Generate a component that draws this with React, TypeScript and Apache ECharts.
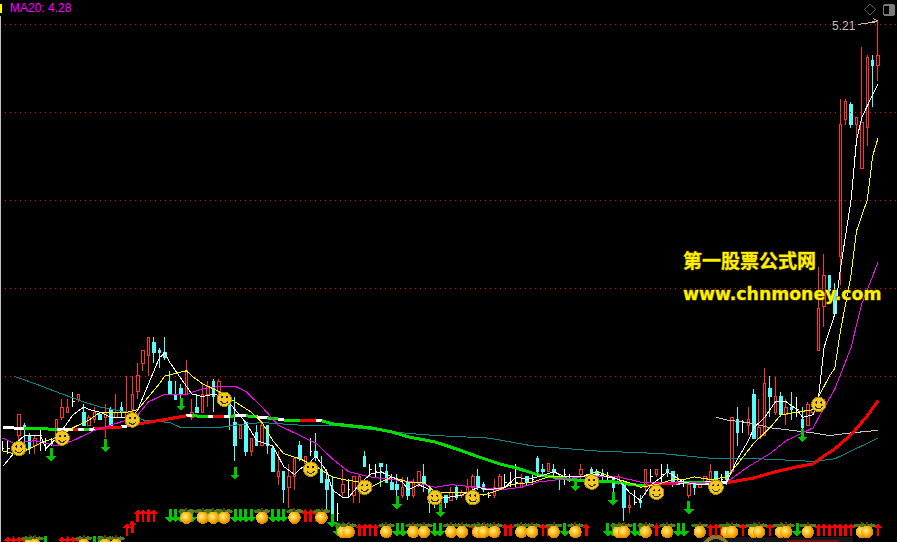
import React, { useEffect, useRef } from "react";
import * as echarts from "echarts";

// [open, close, low, high] for each trading day
const candles: number[][] = [
  [3.56,3.56,3.55,3.59],[3.56,3.56,3.54,3.59],[3.56,3.56,3.55,3.57],[3.61,3.69,3.57,3.69],[3.65,3.64,3.57,3.66],
  [3.61,3.56,3.54,3.62],[3.57,3.60,3.54,3.61],[3.61,3.61,3.55,3.63],[3.58,3.58,3.55,3.60],[3.58,3.58,3.57,3.60],
  [3.60,3.67,3.59,3.67],[3.68,3.72,3.67,3.75],[3.70,3.72,3.70,3.75],[3.74,3.74,3.72,3.78],[3.75,3.77,3.74,3.77],
  [3.70,3.65,3.65,3.73],[3.65,3.68,3.65,3.69],[3.67,3.70,3.66,3.72],[3.69,3.67,3.67,3.70],[3.68,3.70,3.60,3.73],
  [3.71,3.65,3.64,3.72],[3.68,3.70,3.68,3.77],[3.72,3.70,3.68,3.74],[3.68,3.70,3.65,3.84],[3.71,3.77,3.64,3.84],
  [3.78,3.84,3.75,3.89],[3.89,3.94,3.86,3.94],[3.92,3.99,3.84,3.99],[3.97,3.93,3.89,3.99],[3.94,3.93,3.87,3.95],
  [3.93,3.91,3.90,3.99],[3.82,3.77,3.77,3.86],[3.77,3.75,3.75,3.82],[3.79,3.77,3.75,3.81],[3.77,3.86,3.77,3.90],
  [3.68,3.70,3.67,3.75],[3.72,3.70,3.70,3.77],[3.70,3.77,3.70,3.81],[3.77,3.80,3.72,3.82],[3.82,3.76,3.70,3.83],
  [3.78,3.82,3.76,3.83],[3.77,3.76,3.75,3.78],[3.74,3.69,3.63,3.76],[3.66,3.57,3.51,3.76],[3.60,3.65,3.60,3.65],
  [3.66,3.55,3.53,3.66],[3.55,3.60,3.53,3.60],[3.62,3.57,3.57,3.65],[3.57,3.65,3.57,3.66],[3.65,3.57,3.54,3.65],
  [3.56,3.47,3.47,3.57],[3.45,3.47,3.42,3.55],[3.47,3.40,3.35,3.47],[3.41,3.45,3.33,3.50],[3.45,3.52,3.40,3.52],
  [3.57,3.52,3.51,3.59],[3.50,3.53,3.49,3.53],[3.55,3.55,3.53,3.60],[3.55,3.53,3.51,3.62],[3.48,3.43,3.43,3.53],
  [3.44,3.40,3.31,3.48],[3.40,3.31,3.30,3.45],[3.31,3.31,3.28,3.35],[3.39,3.42,3.37,3.48],[3.40,3.40,3.37,3.44],
  [3.38,3.45,3.35,3.45],[3.43,3.45,3.35,3.46],[3.53,3.49,3.49,3.55],[3.48,3.48,3.45,3.50],[3.47,3.47,3.45,3.50],
  [3.50,3.49,3.41,3.50],[3.47,3.43,3.43,3.50],[3.43,3.40,3.40,3.46],[3.42,3.40,3.37,3.46],[3.38,3.41,3.37,3.45],
  [3.43,3.38,3.36,3.45],[3.38,3.43,3.37,3.44],[3.43,3.47,3.41,3.47],[3.45,3.42,3.39,3.50],[3.40,3.35,3.31,3.41],
  [3.36,3.35,3.33,3.38],[3.34,3.37,3.34,3.38],[3.38,3.35,3.33,3.38],[3.36,3.39,3.36,3.41],[3.41,3.37,3.36,3.42],
  [3.38,3.39,3.37,3.40],[3.37,3.41,3.36,3.44],[3.41,3.45,3.39,3.46],[3.45,3.41,3.40,3.48],[3.42,3.40,3.39,3.43],
  [3.38,3.38,3.37,3.39],[3.38,3.41,3.37,3.44],[3.41,3.45,3.41,3.46],[3.43,3.43,3.41,3.46],[3.43,3.43,3.41,3.47],
  [3.43,3.43,3.41,3.50],[3.41,3.43,3.41,3.46],[3.45,3.43,3.42,3.45],[3.44,3.44,3.42,3.47],[3.52,3.47,3.45,3.53],
  [3.48,3.47,3.45,3.50],[3.47,3.50,3.47,3.50],[3.48,3.47,3.45,3.50],[3.45,3.44,3.40,3.46],[3.46,3.46,3.42,3.48],
  [3.45,3.45,3.43,3.46],[3.44,3.44,3.40,3.45],[3.46,3.48,3.44,3.50],[3.44,3.44,3.43,3.46],[3.48,3.46,3.45,3.49],
  [3.47,3.45,3.44,3.48],[3.46,3.45,3.43,3.48],[3.45,3.45,3.43,3.47],[3.45,3.41,3.39,3.45],[3.43,3.45,3.42,3.46],
  [3.43,3.33,3.28,3.43],[3.33,3.34,3.31,3.38],[3.35,3.35,3.34,3.40],[3.36,3.35,3.33,3.38],[3.41,3.48,3.38,3.48],
  [3.45,3.45,3.43,3.48],[3.46,3.48,3.45,3.48],[3.46,3.46,3.42,3.50],[3.48,3.47,3.45,3.50],[3.47,3.43,3.41,3.47],
  [3.43,3.42,3.42,3.46],[3.43,3.43,3.41,3.44],[3.38,3.42,3.37,3.43],[3.42,3.41,3.38,3.43],[3.41,3.43,3.41,3.43],
  [3.42,3.45,3.42,3.45],[3.43,3.47,3.41,3.50],[3.47,3.44,3.42,3.47],[3.44,3.44,3.43,3.46],[3.47,3.44,3.42,3.47],
  [3.47,3.68,3.46,3.68],[3.67,3.62,3.57,3.72],[3.66,3.66,3.62,3.67],[3.65,3.67,3.61,3.72],[3.77,3.60,3.60,3.79],
  [3.60,3.64,3.60,3.75],[3.61,3.81,3.61,3.87],[3.79,3.76,3.68,3.84],[3.70,3.76,3.69,3.84],[3.76,3.69,3.68,3.78],
  [3.69,3.72,3.65,3.75],[3.72,3.71,3.67,3.78],[3.71,3.71,3.68,3.76],[3.67,3.64,3.62,3.72],[3.65,3.73,3.65,3.74],
  [3.70,3.71,3.69,3.72],[3.94,4.10,3.94,4.26],[4.11,4.23,4.03,4.31],[4.23,4.17,4.16,4.23],[4.17,4.08,4.08,4.20],
  [4.30,4.81,4.19,4.91],[4.83,4.90,4.81,4.91],[4.89,4.81,4.80,4.90],[4.81,4.84,4.75,4.84],[4.64,4.82,4.64,5.11],
  [4.80,5.07,4.73,5.08],[5.06,5.04,4.88,5.08],[5.04,5.08,4.98,5.21],
];

// Moving averages: [bar index, price]
const ma5: number[][] = [
  [0,3.49],[2,3.54],[3,3.59],[4,3.61],[7,3.61],[8,3.56],[10,3.60],[11,3.63],[13,3.69],[15,3.72],[16,3.71],[18,3.70],[20,3.68],[24,3.68],[25,3.71],[27,3.81],[29,3.91],[30,3.93],[31,3.89],[33,3.83],[35,3.77],[37,3.76],[39,3.77],[41,3.76],[43,3.71],[45,3.66],[47,3.59],[50,3.57],[52,3.49],[54,3.46],[55,3.48],
  [57,3.51],[58,3.53],[60,3.47],[61,3.40],[63,3.37],[64,3.37],[66,3.42],[68,3.46],[70,3.47],[71,3.46],[74,3.43],[75,3.40],[77,3.42],[79,3.40],[81,3.37],[82,3.37],[85,3.38],[88,3.41],[90,3.40],[93,3.41],[95,3.45],[97,3.44],[99,3.45],[102,3.47],[104,3.45],[107,3.45],[109,3.46],[110,3.46],
  [114,3.44],[116,3.39],[118,3.36],[120,3.42],[122,3.45],[123,3.47],[126,3.43],[129,3.42],[131,3.42],[134,3.43],[136,3.52],[138,3.59],[139,3.64],[141,3.68],[143,3.74],[145,3.74],[147,3.71],[148,3.68],[150,3.69],[151,3.76],[152,3.95],[154,4.08],[155,4.25],[157,4.52],[158,4.75],[159,4.84],[162,4.97],
];
const ma10: number[][] = [
  [0,3.55],[2,3.54],[4,3.55],[6,3.57],[8,3.59],[10,3.60],[13,3.64],[16,3.67],[18,3.70],[21,3.70],[23,3.70],[25,3.71],[27,3.76],[29,3.81],[30,3.84],[32,3.85],[34,3.86],[35,3.84],[37,3.81],[40,3.78],[43,3.74],[46,3.70],[48,3.66],[50,3.59],[52,3.54],[55,3.52],
  [58,3.49],[61,3.45],[63,3.44],[66,3.43],[68,3.41],[70,3.43],[72,3.45],[75,3.43],[78,3.43],[80,3.39],[82,3.39],[85,3.39],[89,3.38],[92,3.40],[94,3.42],[98,3.43],[101,3.45],[104,3.45],[107,3.45],[110,3.47],
  [114,3.44],[117,3.42],[118,3.41],[121,3.42],[124,3.44],[126,3.44],[128,3.45],[131,3.44],[134,3.45],[136,3.50],[139,3.58],[142,3.64],[144,3.69],[147,3.70],[150,3.71],[151,3.76],[153,3.84],[154,3.87],[155,4.01],[157,4.23],[158,4.40],[160,4.52],[161,4.69],[162,4.76],
];
const ma20: number[][] = [
  [0,3.60],[2,3.58],[6,3.59],[10,3.57],[13,3.59],[17,3.63],[20,3.65],[23,3.67],[25,3.69],[27,3.74],[30,3.77],[34,3.77],[37,3.79],[40,3.80],[43,3.80],[45,3.78],[48,3.72],[51,3.65],[55,3.61],[58,3.58],[61,3.52],[64,3.47],[68,3.45],[72,3.44],[76,3.43],[80,3.41],[83,3.42],[88,3.41],[92,3.40],[96,3.41],[99,3.43],[103,3.44],[107,3.45],[110,3.45],[114,3.45],[118,3.43],[123,3.43],[126,3.43],[130,3.43],[134,3.43],[138,3.49],[142,3.54],[145,3.59],[150,3.64],[151,3.68],[154,3.79],[157,3.95],[159,4.12],[162,4.28],
];
const ma120: number[][] = [
  [2,3.84],[6,3.81],[11,3.77],[15,3.74],[18,3.72],[23,3.70],[26,3.67],[31,3.66],[33,3.64],[37,3.64],[40,3.64],[43,3.65],[48,3.66],[55,3.65],[61,3.65],[74,3.62],[80,3.61],[90,3.60],[98,3.57],[110,3.55],[122,3.54],[132,3.52],[140,3.52],[150,3.51],[154,3.52],[158,3.56],[162,3.60],
];
const avgLine: number[][] = [
  [132,3.68],[134,3.67],[138,3.66],[142,3.64],[146,3.63],[150,3.62],[153,3.61],[157,3.62],[162,3.63],
];
// Thick trend line: [bar index, price] and the colour of the stretch ending at that point (w, g, r)
const ma60: number[][] = [
  [0,3.640],[4,3.638],[10,3.634],[13,3.632],[14,3.632],[15,3.632],[16,3.632],[17,3.636],[22,3.643],[23,3.647],[34,3.686],[35,3.686],[38,3.684],[39,3.682],[41,3.682],[42,3.684],[43,3.686],[45,3.686],[47,3.682],[49,3.678],[51,3.674],[52,3.670],[55,3.667],[58,3.670],[59,3.667],
  [61,3.655],[68,3.640],[72,3.624],[75,3.605],[80,3.585],[84,3.558],[88,3.528],[92,3.500],[95,3.485],[99,3.458],[104,3.443],[107,3.435],[113,3.431],[117,3.419],[119,3.415],[122,3.423],[125,3.427],[126,3.427],[130,3.427],[134,3.427],
  [136,3.435],[139,3.446],[143,3.470],[147,3.489],[150,3.500],[152,3.531],[154,3.558],[157,3.613],[160,3.686],[162,3.744],
];
const ma60Trend: string[] = [
  "w","g","w","r","w","g","w","r","w","r","w","g","w","r","w","g","w","g","w","g","w","g","r","w",
  "g","g","g","g","g","g","g","g","g","g","g","g","g","g","g","r","r","w","g","w",
  "r","r","r","r","r","r","r","r","r","r",
];

const gridLevels: number[] = [5.20, 4.86, 4.52, 4.18, 3.84];

// Signal rows: [bar index, price level]
const smileys: number[][] = [[3,3.56],[11,3.60],[24,3.67],[41,3.75],[57,3.48],[67,3.41],[80,3.37],[87,3.37],[109,3.43],[121,3.39],[132,3.41],[151,3.73]];
const sellArrows: number[][] = [
  [9,3.535],[19,3.57],[33,3.73],[43,3.465],[73,3.35],[81,3.32],[106,3.42],[113,3.365],[127,3.33],[148,3.61],[61,3.28],
  [31,3.30],[32,3.30],[33,3.30],[35,3.30],[38,3.30],[40,3.30],[43,3.30],[44,3.30],[45,3.30],[46,3.30],[50,3.30],[51,3.30],[52,3.30],
  [8,3.195],[17,3.195],[18,3.195],
  [62,3.245],[73,3.245],[74,3.245],[80,3.245],[81,3.245],[104,3.245],[112,3.245],[113,3.245],[117,3.245],[118,3.245],[125,3.245],[126,3.245],[147,3.245],
];
const buyArrows: number[][] = [
  [1,3.195],[2,3.195],[3,3.195],[4,3.195],[11,3.195],[12,3.195],[13,3.195],[14,3.195],
  [23,3.245],[24,3.257],[25,3.30],[26,3.30],[27,3.30],[28,3.30],[56,3.30],[57,3.30],[58,3.30],
  [66,3.245],[67,3.245],[68,3.245],[69,3.245],[87,3.245],[93,3.245],[94,3.245],[100,3.245],[101,3.245],[108,3.245],[121,3.245],[131,3.245],[132,3.245],[133,3.245],[137,3.245],[142,3.245],
  [151,3.245],[152,3.245],[153,3.245],[154,3.245],[155,3.245],[156,3.245],[157,3.245],[162,3.245],
];
const oranges: number[][] = [
  [5,3.195],[6,3.195],[15,3.195],[19,3.195],[21,3.195],
  [34,3.30],[37,3.30],[39,3.30],[41,3.30],[48,3.30],[54,3.30],[59,3.30],
  [63,3.245],[64,3.245],[71,3.245],[76,3.245],[78,3.245],[83,3.245],[85,3.245],[88,3.245],[89,3.245],[91,3.245],[96,3.245],[98,3.245],[102,3.245],[106,3.245],
  [114,3.245],[115,3.245],[119,3.245],[123,3.245],[129,3.245],[134,3.245],[135,3.245],[139,3.245],[140,3.245],[144,3.245],[145,3.245],[149,3.245],[159,3.245],[160,3.245],
];
const titleText = "MA20: 4.28";
const maxLabel = "5.21";
const watermarkCn = "第一股票公式网";
const watermarkUrl = "www.chnmoney.com";
const slotCount = 166;

const RED = "#ff3232";
const CYAN = "#54fcfc";

function renderArrow(color: string, up: boolean, headHalf: number, shaftHalf: number) {
  return (_p: any, api: any) => {
    const c = api.coord([api.value(0), api.value(1)]);
    const d = up ? 1 : -1;
    const pts = [[0,-6.5*d],[headHalf,-1.5*d],[shaftHalf,-1.5*d],[shaftHalf,6.5*d],[-shaftHalf,6.5*d],[-shaftHalf,-1.5*d],[-headHalf,-1.5*d]];
    return { type: "polygon", x: c[0], y: c[1], shape: { points: pts }, style: { fill: color } };
  };
}

function renderOrange(_p: any, api: any) {
  const c = api.coord([api.value(0), api.value(1)]);
  return {
    type: "group", x: c[0], y: c[1] + 2,
    children: [
      { type: "ellipse", shape: { cx: -4, cy: -6.5, rx: 4.5, ry: 2 }, style: { fill: "#4c7a16" } },
      { type: "ellipse", shape: { cx: 4, cy: -6.5, rx: 4.5, ry: 2 }, style: { fill: "#5e7f1c" } },
      { type: "rect", shape: { x: -1, y: -9.5, width: 2, height: 4 }, style: { fill: "#5a3a10" } },
      { type: "circle", shape: { cx: 0, cy: 0, r: 6.2 }, style: {
        fill: new echarts.graphic.RadialGradient(0.4, 0.4, 0.65, [
          { offset: 0, color: "#fff09a" }, { offset: 0.45, color: "#ffc01c" }, { offset: 1, color: "#d97800" },
        ]) } },
    ],
  };
}

function renderSmiley(_p: any, api: any) {
  const c = api.coord([api.value(0), api.value(1)]);
  return {
    type: "group", x: c[0], y: c[1],
    children: [
      { type: "circle", shape: { cx: 0, cy: 0, r: 7.2 }, style: { fill: "#f5c81e", stroke: "#a98a12", lineWidth: 1 } },
      { type: "circle", shape: { cx: -2.5, cy: -2, r: 1 }, style: { fill: "#222" } },
      { type: "circle", shape: { cx: 2.5, cy: -2, r: 1 }, style: { fill: "#222" } },
      { type: "arc", shape: { cx: 0, cy: 0.2, r: 4, startAngle: 0.35, endAngle: 2.8 }, style: { stroke: "#333", fill: "none", lineWidth: 1 } },
    ],
  };
}

function trendSeries(kind: string, color: string) {
  const data: any[] = [];
  for (let s = 0; s < ma60Trend.length; s++) {
    if (ma60Trend[s] !== kind) continue;
    data.push(ma60[s], ma60[s + 1], [ma60[s + 1][0], null]);
  }
  return {
    type: "line", data, showSymbol: false, symbol: "none", silent: true, connectNulls: false,
    lineStyle: { color, width: 3 }, z: 4,
  };
}

function thinLine(data: number[][], color: string, z: number) {
  return { type: "line", data, showSymbol: false, symbol: "none", silent: true, lineStyle: { color, width: 1 }, z };
}

function custom(data: number[][], renderItem: any, z: number) {
  return { type: "custom", data, renderItem, silent: true, clip: false, encode: { x: 0, y: 1 }, z };
}

export default function App() {
  const ref = useRef<HTMLDivElement>(null);
  useEffect(() => {
    document.body.style.margin = "0";
    document.body.style.background = "#000";
    const chart = echarts.init(ref.current!, undefined, { renderer: "svg" });
    chart.setOption({
      animation: false,
      backgroundColor: "#000",
      tooltip: { show: false },
      grid: { left: -1.67, top: 0, width: 900.2, height: 542, containLabel: false },
      xAxis: {
        type: "category", data: Array.from({ length: slotCount }, (_, i) => String(i)),
        boundaryGap: true, show: false,
      },
      yAxis: { type: "value", min: 3.1985, max: 5.2927, show: false, splitLine: { show: false }, scale: true },
      series: [
        {
          type: "candlestick", data: candles, barWidth: 3, silent: true, z: 2,
          itemStyle: { color: "#000", color0: CYAN, borderColor: RED, borderColor0: CYAN, borderColorDoji: "#ffffff", borderWidth: 1 },
          markLine: {
            silent: true, symbol: "none", label: { show: false }, animation: false,
            lineStyle: { color: "#ff0000", type: [1, 4], width: 1 },
            data: gridLevels.map((v) => ({ yAxis: v })),
          },
        },
        thinLine(ma120, "#0c8a8a", 3),
        thinLine(avgLine, "#c4c4c4", 3),
        trendSeries("w", "#ffffff"),
        trendSeries("g", "#00e000"),
        trendSeries("r", "#ff0000"),
        thinLine(ma20, "#ff00ff", 5),
        thinLine(ma10, "#ffff00", 6),
        thinLine(ma5, "#ffffff", 7),
        custom(sellArrows, renderArrow("#00c800", false, 5, 1.5), 8),
        custom(buyArrows, renderArrow("#ff0000", true, 4.4, 1.3), 8),
        custom(oranges, renderOrange, 9),
        custom(smileys, renderSmiley, 10),
      ],
      graphic: [
        { type: "rect", z: 20, shape: { x: 0, y: 4, width: 2, height: 9 }, style: { fill: "#ffff00" } },
        { type: "rect", z: 20, shape: { x: 0, y: 16, width: 1, height: 526 }, style: { fill: "#c0c0c0" } },
        { type: "text", z: 20, x: 10, y: 2, style: { text: titleText, fill: "#ff00ff", font: "12px 'Liberation Sans'" } },
        { type: "text", z: 20, x: 832, y: 20, style: { text: maxLabel, fill: "#c0c0c0", font: "12px 'Liberation Sans'" } },
        { type: "polyline", z: 20, shape: { points: [[858,24.5],[868,23],[877,21]] }, style: { stroke: "#c0c0c0", fill: "none", lineWidth: 1 } },
        { type: "polyline", z: 20, shape: { points: [[873,18.5],[877.5,20.5],[873,23]] }, style: { stroke: "#c0c0c0", fill: "none", lineWidth: 1 } },
        { type: "polygon", z: 20, shape: { points: [[870,4],[875.5,9.5],[870,15],[864.5,9.5]] }, style: { stroke: "#5a5a5a", fill: "none", lineWidth: 1 } },
        { type: "rect", z: 20, shape: { x: 883.5, y: 5, width: 11, height: 10, r: 2 }, style: { stroke: "#7a7a7a", fill: "#000", lineWidth: 1.4 } },
        { type: "rect", z: 20, shape: { x: 889, y: 6, width: 5, height: 8 }, style: { fill: "#7a7a7a" } },
        { type: "rect", z: 1, shape: { x: 703, y: 537, width: 150, height: 5 }, style: { fill: "#161616" } },
        { type: "ring", z: 1, shape: { cx: 716, cy: 549, r: 14, r0: 10 }, style: { fill: "#8a7430" } },
        { type: "rect", z: 1, shape: { x: 787, y: 540, width: 52, height: 2 }, style: { fill: "#7a0c0c" } },
        { type: "text", z: 15, x: 683, y: 250, style: {
          text: watermarkCn, fill: "#fff000", font: "bold 19px 'Noto Sans CJK SC'",
          stroke: "#6e5f00", lineWidth: 1,
        } },
        { type: "text", z: 15, x: 683, y: 285, style: {
          text: watermarkUrl, fill: "#fff000", font: "bold 17.3px 'DejaVu Sans'",
          stroke: "#6e5f00", lineWidth: 1,
        } },
      ],
    });
    return () => chart.dispose();
  }, []);
  return (
    <>
      <style>{`#root svg path { shape-rendering: crispEdges; }`}</style>
      <div
        ref={ref}
        style={{ position: "absolute", left: 0, top: 0, width: 897, height: 542, background: "#000", overflow: "hidden" }}
      />
    </>
  );
}
